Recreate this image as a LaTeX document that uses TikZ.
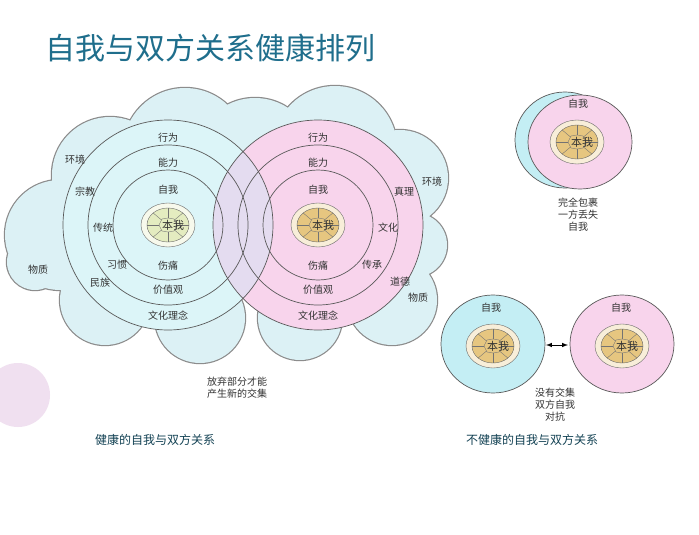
\documentclass[tikz,border=0pt]{standalone}
\usepackage{fontspec}
\setmainfont{Noto Sans CJK SC}
\usetikzlibrary{calc}
\begin{document}
\begin{tikzpicture}[x=1pt,y=-1pt,
 lab/.style={font=\fontsize{10}{12}\selectfont,text=black!80,inner sep=0pt},
 ring/.style={draw=black!65,line width=0.7pt}]
\useasboundingbox (0,0) rectangle (699,535);
\fill[white] (0,0) rectangle (699,535);
\definecolor{cloudc}{HTML}{DCF1F5}
\definecolor{pinkc}{HTML}{F8D4EC}
\definecolor{lensc}{HTML}{E4DCF0}
\definecolor{bluec}{HTML}{C4EEF4}
\definecolor{tanc}{HTML}{E6C680}
\definecolor{paleg}{HTML}{E4ECC0}
\definecolor{titlec}{HTML}{1F6E8C}
% balloon
\fill[violet!12] (18,395) circle (32);
% title
\node[font=\fontsize{30}{34}\selectfont,text=titlec,anchor=west] (title) at (42,48) {自我与双方关系健康排列};
% cloud
\fill[black!45] (60,235) circle (56.2) (110,175) circle (59.2) (185,150) circle (63.2) (255,158) circle (61.2) (335,148) circle (63.2) (400,178) circle (49.2) (415,245) circle (33.2) (392,300) circle (46.2) (300,318) circle (43.2) (200,318) circle (46.2) (105,300) circle (46.2) (35,262) circle (29.2);
\fill[cloudc] (60,235) circle (55) (110,175) circle (58) (185,150) circle (62) (255,158) circle (60) (335,148) circle (62) (400,178) circle (48) (415,245) circle (32) (392,300) circle (45) (300,318) circle (42) (200,318) circle (45) (105,300) circle (45) (35,262) circle (28);
% circles
\fill[bluec!60!white] (168,225) circle (105);
\fill[pinkc] (318,225) circle (105);
\begin{scope}
\clip (168,225) circle (105);
\fill[lensc] (318,225) circle (105);
\end{scope}
\draw[ring] (318,225) circle (105) (318,225) circle (80) (318,225) circle (55);
\draw[ring] (168,225) circle (105) (168,225) circle (80) (168,225) circle (55);
\newcommand\corepic[3]{%
 \draw[black!60,fill=#3!30!white] (#1,#2) ellipse (27 and 22);
 \draw[black!60,fill=#3] (#1,#2) ellipse (21 and 17);
 \draw[black!55] (#1,#2) ++(-9,0) -- ++(3,-6) -- ++(6,-1) -- ++(6,1) -- ++(3,6) -- ++(-3,6) -- ++(-6,1) -- ++(-6,-1) -- cycle;
 \foreach \a in {0,45,...,315}{\draw[black!55] ($(#1,#2)+(\a:9 and 7)$) -- ($(#1,#2)+(\a:21 and 17)$);}
 \node[lab,font=\fontsize{11}{12}\selectfont] at (#1+5,#2) {本我};}
\corepic{168}{225}{paleg}
\corepic{318}{225}{tanc}
\foreach \t/\px/\py in {行为/168/138,能力/168/163,自我/168/190,伤痛/168/266,价值观/168/290,文化理念/168/316,
 行为/318/138,能力/318/163,自我/318/190,伤痛/318/266,价值观/318/290,文化理念/318/316,
 环境/75/160,宗教/85/192,传统/103/228,习惯/117/265,民族/100/283,物质/38/270,
 真理/404/192,环境/432/182,文化/388/228,传承/372/265,道德/400/282,物质/418/298}
 \node[lab] at (\px,\py) {\t};
\node[lab,align=center] (give) at (237,388) {放弃部分才能\\产生新的交集};
\node[lab,font=\fontsize{12}{14}\selectfont,text=titlec!60!black] (h) at (155,440) {健康的自我与双方关系};
\node[lab,font=\fontsize{12}{14}\selectfont,text=titlec!60!black] (u) at (532,440) {不健康的自我与双方关系};
% top right
\draw[ring,fill=bluec] (565,140) ellipse (50 and 48);
\draw[ring,fill=pinkc] (580,142) ellipse (52 and 47);
\corepic{577}{142}{tanc}
\node[lab] at (578,104) {自我};
\node[lab,align=center] at (578,215) {完全包裹\\一方丢失\\自我};
% bottom
\draw[ring,fill=bluec] (493,344) ellipse (52 and 49);
\draw[ring,fill=pinkc] (622,344) ellipse (52 and 49);
\coordinate (la) at (546,345); \coordinate (ra) at (568,345);
\draw[black,line width=1pt,<->,>=latex] (la) -- (ra);
\corepic{493}{346}{tanc}
\corepic{622}{346}{tanc}
\node[lab] at (491,308) {自我};
\node[lab] at (621,308) {自我};
\node[lab,align=center] at (555,405) {没有交集\\双方自我\\对抗};
\end{tikzpicture}
\end{document}
